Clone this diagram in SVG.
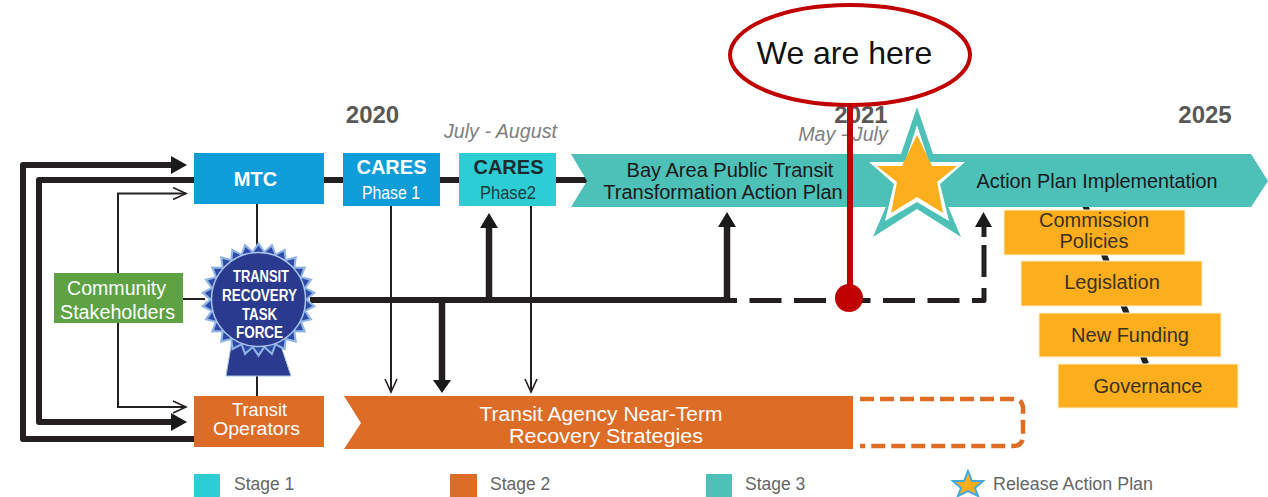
<svg xmlns="http://www.w3.org/2000/svg" width="1268" height="497" viewBox="0 0 1268 497">
<style>
text{font-family:"Liberation Sans",Arial,sans-serif;text-anchor:middle}
.thick{fill:none;stroke:#231f20;stroke-width:6;stroke-linejoin:round}
.dash{fill:none;stroke:#231f20;stroke-width:5;stroke-linejoin:round}
.mid{fill:none;stroke:#231f20;stroke-width:6.500}
.thin{fill:none;stroke:#231f20;stroke-width:2}
.w{fill:#fff}.d{fill:#1a1a1a}
.year{font-size:24px;font-weight:bold;fill:#595959}
.date{font-size:19.700px;font-style:italic;fill:#808080}
.leg{font-size:17.500px;fill:#666;text-anchor:start}
.or{fill:#fdae1c;stroke:#fff0d0;stroke-width:1}
.ot{font-size:20px;fill:#3a3220}
.seal{font-size:16px;font-weight:bold;fill:#fff}
</style>
<defs>
<marker id="open" markerUnits="userSpaceOnUse" markerWidth="16" markerHeight="16" refX="14" refY="7" orient="auto"><path d="M1 1L14 7L1 13" fill="none" stroke="#231f20" stroke-width="1.600"/></marker>
<path id="spO" d="M-8 -46L0 -58L8 -46Z" fill="#8fb4e3"/>
<path id="spI" d="M-5 -47L0 -54L5 -47Z" fill="#2e4aa8"/>
<g id="sp"><use href="#spO"/><use href="#spI"/></g>
</defs>
<g id="connectors">
<path class="thick" d="M194 439H23V165H172"/><path class="d" d="M171 156L187 165L171 174Z"/>
<path class="thick" d="M194 180H39V422H172"/><path class="d" d="M171 413L187 422L171 431Z"/>
<path class="thin" d="M118 273V193.500H186" marker-end="url(#open)"/>
<path class="thin" d="M118 323V407H186" marker-end="url(#open)"/>
<path class="thin" d="M257 204V396"/>
<path class="thin" d="M183 299H205"/>
<path class="thick" d="M324 180H588"/>
<path class="thick" d="M310 300H727"/>
<path class="thin" d="M391 206V392" marker-end="url(#open)"/>
<path class="thin" d="M531 206V392" marker-end="url(#open)"/>
<path class="mid" d="M442 300V382"/><path class="d" d="M433 380H451L442 393Z"/>
<path class="mid" d="M489 300V226"/><path class="d" d="M480 228H498L489 213Z"/>
<path class="mid" d="M727 300V226"/><path class="d" d="M718 227H736L727 212Z"/>
<path class="dash" stroke-dasharray="32 12.500" d="M705 300.500H972"/>
<path class="dash" d="M972 300.500H984V288M984 277V245M984 237V226"/>
<path class="d" d="M975 227H992L983.500 212Z"/>
<path d="M1085 205L1146 364" fill="none" stroke="#231f20" stroke-width="6"/>
</g>
<g id="node-mtc"><rect x="194" y="153" width="130" height="51" fill="#0e9dd9"/><text x="255.500" y="186" font-size="20" font-weight="bold" class="w">MTC</text></g>
<g id="node-community"><rect x="54" y="273" width="129" height="50" fill="#5ea244"/><text x="116.500" y="295" font-size="20" class="w" textLength="99" lengthAdjust="spacingAndGlyphs">Community</text><text x="117.500" y="319" font-size="20" class="w" textLength="115" lengthAdjust="spacingAndGlyphs">Stakeholders</text></g>
<g id="node-operators"><rect x="194" y="396" width="130" height="51" fill="#dd6c27"/><text x="259.500" y="416" font-size="17.500" class="w" textLength="55" lengthAdjust="spacingAndGlyphs">Transit</text><text x="256.500" y="435" font-size="17.500" class="w" textLength="87" lengthAdjust="spacingAndGlyphs">Operators</text></g>
<g id="node-taskforce">
<path d="M232 340L226 376H291L279 340Z" fill="#2a3b8f" stroke="#a8c4ea"/>
<g transform="translate(258.500 299.500)">
<use href="#sp"/><use href="#sp" transform="rotate(13.85)"/><use href="#sp" transform="rotate(27.69)"/><use href="#sp" transform="rotate(41.54)"/><use href="#sp" transform="rotate(55.38)"/><use href="#sp" transform="rotate(69.23)"/><use href="#sp" transform="rotate(83.08)"/><use href="#sp" transform="rotate(96.92)"/><use href="#sp" transform="rotate(110.77)"/><use href="#sp" transform="rotate(124.62)"/><use href="#sp" transform="rotate(138.46)"/><use href="#sp" transform="rotate(152.31)"/><use href="#sp" transform="rotate(166.15)"/><use href="#sp" transform="rotate(180)"/><use href="#sp" transform="rotate(193.85)"/><use href="#sp" transform="rotate(207.69)"/><use href="#sp" transform="rotate(221.54)"/><use href="#sp" transform="rotate(235.38)"/><use href="#sp" transform="rotate(249.23)"/><use href="#sp" transform="rotate(263.08)"/><use href="#sp" transform="rotate(276.92)"/><use href="#sp" transform="rotate(290.77)"/><use href="#sp" transform="rotate(304.62)"/><use href="#sp" transform="rotate(318.46)"/><use href="#sp" transform="rotate(332.31)"/><use href="#sp" transform="rotate(346.15)"/>
<circle r="47" fill="#2a3b8f" stroke="#a8c4ea" stroke-width="1.500"/>
</g>
<text class="seal" x="261" y="282" textLength="56" lengthAdjust="spacingAndGlyphs">TRANSIT</text>
<text class="seal" x="259.500" y="301" textLength="75" lengthAdjust="spacingAndGlyphs">RECOVERY</text>
<text class="seal" x="259.500" y="320" textLength="35" lengthAdjust="spacingAndGlyphs">TASK</text>
<text class="seal" x="259.500" y="338" textLength="47" lengthAdjust="spacingAndGlyphs">FORCE</text>
</g>
<g id="node-cares1"><rect x="343" y="153" width="97" height="53" fill="#0e9dd9"/><text x="391.500" y="174" font-size="20" font-weight="bold" class="w">CARES</text><text x="391" y="199" font-size="19" class="w" textLength="58" lengthAdjust="spacingAndGlyphs">Phase 1</text></g>
<g id="node-cares2"><rect x="459" y="153" width="97" height="53" fill="#2ccdd5"/><text x="508.500" y="174" font-size="20" font-weight="bold" fill="#1f2a30">CARES</text><text x="508" y="199" font-size="19" fill="#1f3a40" textLength="56" lengthAdjust="spacingAndGlyphs">Phase2</text></g>
<g id="node-actionplan"><path d="M571 154H900V207H571L587 181Z" fill="#4dc0b8"/><text x="730" y="177" font-size="20" fill="#1a1a1a">Bay Area Public Transit</text><text x="723" y="199" font-size="20" fill="#1a1a1a">Transformation Action Plan</text></g>
<g id="node-implementation"><path d="M890 154H1251L1268 181L1251 207H890Z" fill="#4dc0b8"/><text x="1097" y="188" font-size="19.800" fill="#1a1a1a">Action Plan Implementation</text></g>
<g id="node-star">
<path d="M917 107L933 154H968L941 190L961 237L917 209L873 237L893 190L866 154H901Z" fill="#4dc0b8"/>
<path d="M917 125L929 162H965L940 184L949 221L917 202L885 221L894 184L869 162H905Z" fill="#fff"/>
<path d="M917 135L932 166H957L937 182L943 213L917 197L891 213L897 182L877 166H902Z" fill="#fdae1c"/>
</g>
<g id="node-commission"><rect class="or" x="1004" y="210" width="181" height="45"/><text x="1094" y="227" class="ot">Commission</text><text x="1094" y="248" class="ot">Policies</text></g>
<g id="node-legislation"><rect class="or" x="1021" y="261" width="181" height="45"/><text x="1112" y="289" class="ot">Legislation</text></g>
<g id="node-funding"><rect class="or" x="1039" y="313" width="182" height="44"/><text x="1130" y="342" class="ot">New Funding</text></g>
<g id="node-governance"><rect class="or" x="1058" y="364" width="180" height="44"/><text x="1148" y="393" class="ot">Governance</text></g>
<g id="node-strategies">
<path d="M860 399H1013Q1023 399 1023 409V436Q1023 446 1013 446H860" fill="#fff" stroke="#dd6c27" stroke-width="4.500" stroke-dasharray="14 6"/>
<path d="M344 396H853V449H344L361 423Z" fill="#dd6c27"/>
<text x="601" y="421" font-size="19.500" class="w" textLength="243" lengthAdjust="spacingAndGlyphs">Transit Agency Near-Term</text>
<text x="606" y="443" font-size="19.500" class="w" textLength="194" lengthAdjust="spacingAndGlyphs">Recovery Strategies</text>
</g>
<g id="labels">
<text class="year" x="372.500" y="123">2020</text>
<text class="year" x="861" y="123">2021</text>
<text class="year" x="1205" y="123">2025</text>
<text class="date" x="500.500" y="138">July - August</text>
<text class="date" x="843" y="141">May - July</text>
</g>
<g id="node-here">
<path d="M850 105V298" fill="none" stroke="#c00000" stroke-width="6"/>
<circle cx="849" cy="298" r="14" fill="#c00000"/>
<ellipse cx="850" cy="55" rx="120" ry="50" fill="#fff" stroke="#c00000" stroke-width="4"/>
<text x="844.500" y="64" font-size="32" fill="#111">We are here</text>
</g>
<g id="legend">
<rect x="194" y="474" width="26" height="23" fill="#2ccdd5"/><text class="leg" x="234" y="490">Stage 1</text>
<rect x="450" y="474" width="27" height="23" fill="#dd6c27"/><text class="leg" x="490" y="490">Stage 2</text>
<rect x="706" y="474" width="26" height="23" fill="#4dc0b8"/><text class="leg" x="745" y="490">Stage 3</text>
<path d="M968 471L972 481L983 481L975 488L978 496L968 491L958 496L961 488L953 481L964 481Z" fill="#fdae1c" stroke="#3fa9e0" stroke-width="2"/>
<text class="leg" x="993" y="490" textLength="160" lengthAdjust="spacingAndGlyphs">Release Action Plan</text>
</g>
</svg>
